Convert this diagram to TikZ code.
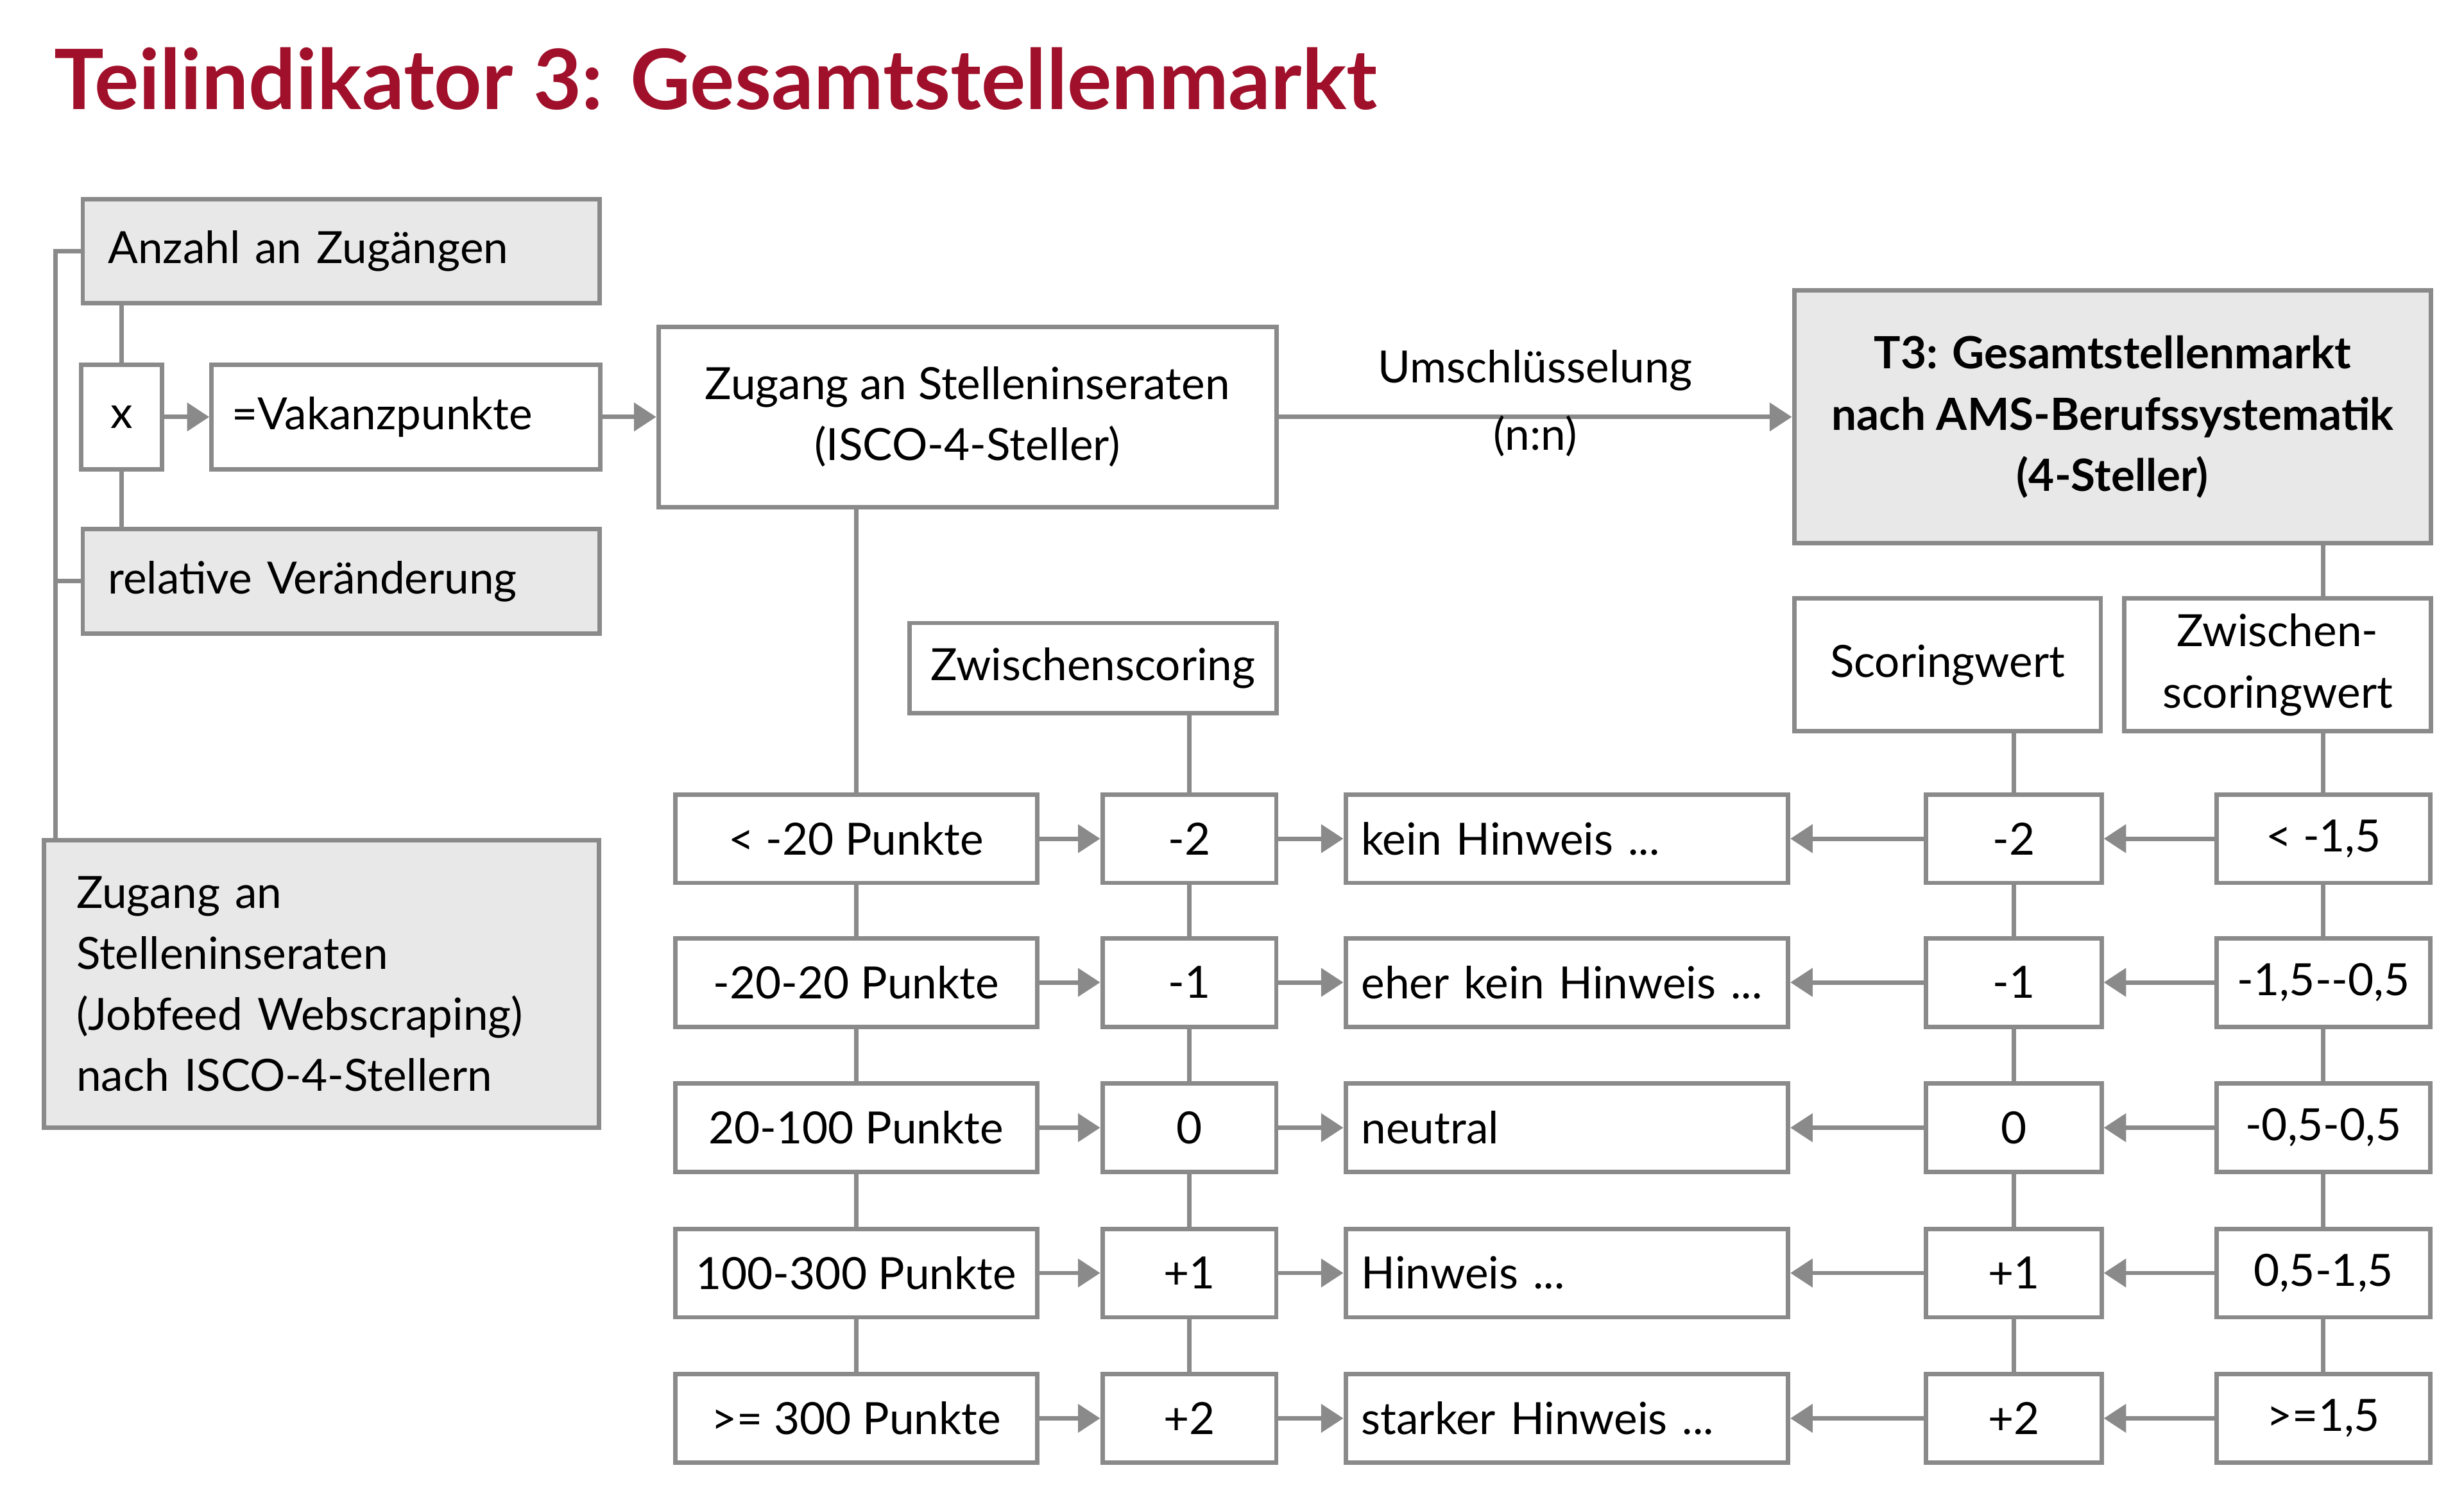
\documentclass[tikz,border=0pt]{standalone}
\usepackage{fontspec}
\setmainfont{Lato}
\usetikzlibrary{arrows.meta}
\definecolor{titlered}{HTML}{A0102A}
\definecolor{linegray}{HTML}{8A8A8A}
\definecolor{boxgray}{HTML}{E8E8E8}
\tikzset{
    every picture/.style={x=0.01cm,y=-0.01cm},
    box/.style={draw=linegray, line width=0.8pt, fill=white, inner sep=0pt, align=center, font=\fontsize{8}{11}\selectfont},
    graybox/.style={box, fill=boxgray},
    link/.style={draw=linegray, line width=0.8pt},
    flow/.style={link, -{Triangle[length=4pt,width=5pt]}}
}
\begin{document}
\begin{tikzpicture}
    \useasboundingbox (0,0) rectangle (1560,952);
    \node[anchor=west, text=titlered, font=\fontsize{15}{18}\bfseries] (title) at (22,50) {Teilindikator 3: Gesamtstellenmarkt};

    % linke Seite
    \node[graybox, minimum width=3.27cm, minimum height=0.66cm, anchor=west, text width=2.95cm, align=left] (anzahl) at (51,159) {Anzahl an Zugängen};
    \node[box, minimum width=0.51cm, minimum height=0.66cm] (mal) at (77,264) {x};
    \node[box, minimum width=2.46cm, minimum height=0.66cm, text width=2.2cm, align=left] (vakanz) at (257,264) {=Vakanzpunkte};
    \node[graybox, minimum width=3.27cm, minimum height=0.66cm, anchor=west, text width=2.95cm, align=left] (rel) at (51,368) {relative Veränderung};
    \node[graybox, minimum width=3.51cm, minimum height=1.82cm, text width=3.1cm, align=left] (jobfeed) at (203.5,623) {Zugang an\\Stelleninseraten\\(Jobfeed Webscraping)\\nach ISCO-4-Stellern};
    \coordinate (brtop) at (35,159);
    \coordinate (brbot) at (35,531);
    \draw[link] (anzahl.west) -- (brtop) -- (brbot);
    \draw[link] (rel.west) -- (35,368);
    \draw[link] (anzahl.south -| mal) -- (mal.north);
    \draw[link] (mal.south) -- (rel.north -| mal);
    \draw[flow] (mal) -- (vakanz);

    % oben
    \node[box, minimum width=3.91cm, minimum height=1.14cm] (isco) at (612.5,264) {Zugang an Stelleninseraten\\(ISCO-4-Steller)};
    \draw[flow] (vakanz) -- (isco);
    \node[graybox, minimum width=4.03cm, minimum height=1.6cm, font=\fontsize{8}{11}\bfseries] (t3) at (1337.5,264) {T3: Gesamtstellenmarkt\\nach AMS-Berufssystematik\\(4-Steller)};
    \draw[flow] (isco) -- node[above, font=\fontsize{8}{11}\selectfont, yshift=1pt] {Umschlüsselung} node[below, font=\fontsize{8}{11}\selectfont, yshift=4pt] {(n:n)} (t3);

    \node[box, minimum width=2.32cm, minimum height=0.57cm] (zwsc) at (692,423) {Zwischenscoring};
    \node[box, minimum width=1.94cm, minimum height=0.84cm] (scw) at (1233,421) {Scoringwert};
    \node[box, minimum width=1.94cm, minimum height=0.84cm] (zwscw) at (1442,421) {Zwischen-\\scoringwert};
    \draw[link] (1471,345) -- (1471,378);

    % Zeilen
    \foreach \i/\y/\p/\s/\t/\r in {
        1/531/{< -20 Punkte}/-2/{kein Hinweis ...}/{< -1,5},
        2/622/{-20-20 Punkte}/-1/{eher kein Hinweis ...}/{-1,5-{}-0,5},
        3/714/{20-100 Punkte}/0/neutral/{-0,5-0,5},
        4/806/{100-300 Punkte}/+1/{Hinweis ...}/{0,5-1,5},
        5/898/{>= 300 Punkte}/+2/{starker Hinweis ...}/{>=1,5}} {
        \node[box, minimum width=2.29cm, minimum height=0.56cm] (pkt\i) at (542,\y) {\p};
        \node[box, minimum width=1.1cm, minimum height=0.56cm] (zs\i) at (753,\y) {\s};
        \node[box, minimum width=2.8cm, minimum height=0.56cm, text width=2.6cm, align=left] (hw\i) at (992,\y) {\t};
        \node[box, minimum width=1.11cm, minimum height=0.56cm] (sw\i) at (1275,\y) {\s};
        \node[box, minimum width=1.35cm, minimum height=0.56cm] (rg\i) at (1471,\y) {\r};
        \draw[flow] (pkt\i) -- (zs\i);
        \draw[flow] (zs\i) -- (hw\i);
        \draw[flow] (sw\i) -- (hw\i);
        \draw[flow] (rg\i) -- (sw\i);
    }
    \foreach \a/\b in {1/2,2/3,3/4,4/5} {
        \draw[link] (pkt\a) -- (pkt\b);
        \draw[link] (zs\a) -- (zs\b);
        \draw[link] (sw\a) -- (sw\b);
        \draw[link] (rg\a) -- (rg\b);
    }
    \draw[link] (isco.south -| pkt1) -- (pkt1);
    \draw[link] (zwsc.south -| zs1) -- (zs1);
    \draw[link] (scw.south -| sw1) -- (sw1);
    \draw[link] (zwscw.south -| rg1) -- (rg1);
\end{tikzpicture}
\end{document}
